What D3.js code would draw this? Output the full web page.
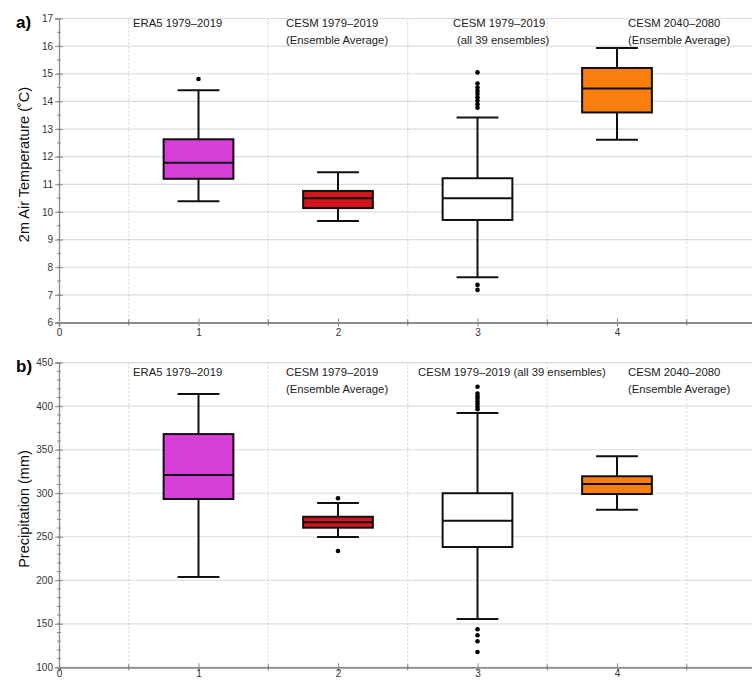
<!DOCTYPE html>
<html><head><meta charset="utf-8">
<script src="https://cdn.jsdelivr.net/npm/d3@7"></script>
<style>body{margin:0;background:#fff}svg{display:block;font-family:"Liberation Sans",Arial,sans-serif}</style>
</head><body><svg id="c" width="752" height="680"></svg>
<script>
const positions = [1, 2, 3, 4];
const colors = ["#d63fd8", "#d4141c", "#ffffff", "#f97e0d"];
const labelsA = [["ERA5 1979–2019"], ["CESM 1979–2019", "(Ensemble Average)"], ["CESM 1979–2019", "(all 39 ensembles)"], ["CESM 2040–2080", "(Ensemble Average)"]];
const labelsB = [["ERA5 1979–2019"], ["CESM 1979–2019", "(Ensemble Average)"], ["CESM 1979–2019 (all 39 ensembles)"], ["CESM 2040–2080", "(Ensemble Average)"]];
// [whiskerLow, q1, median, q3, whiskerHigh]
const tempStats = [[10.39, 11.2, 11.78, 12.63, 14.4], [9.67, 10.14, 10.5, 10.76, 11.44], [7.64, 9.71, 10.5, 11.22, 13.42], [12.61, 13.6, 14.47, 15.21, 15.93]];
const tempOutliers = [[14.81], [], [15.05, 14.65, 14.5, 14.38, 14.27, 14.15, 14.03, 13.9, 13.77, 7.36, 7.18], []];
const precStats = [[203.8, 293.4, 321, 368, 414], [249.7, 260.4, 266.6, 273, 288.8], [155.5, 238.2, 268.4, 300, 392.2], [281, 299.1, 310.6, 319.5, 342.5]];
const precOutliers = [[], [294.2, 233.6], [422.4, 414.5, 411.5, 408.5, 405.5, 402.5, 399.5, 396.5, 143.7, 136.8, 129.9, 117.6], []];
const tempTicks = d3.range(6, 18, 1);
const tempMinor = d3.range(6, 17.01, 0.5);
const precTicks = d3.range(100, 451, 50);
const precMinor = d3.range(100, 451, 10);
const xTicks = [0, 1, 2, 3, 4];
const xHalf = [0.5, 1.5, 2.5, 3.5, 4.5];

const svg = d3.select("#c");
const x = d3.scaleLinear().domain([0, 5]).range([59, 756.5]);

function panel(cfg) {
  const y = d3.scaleLinear().domain(cfg.domain).range([cfg.bottom, cfg.top]);
  const g = svg.append("g");
  g.selectAll(".hg").data(cfg.ticks).join("line")
    .attr("x1", x(0)).attr("x2", 752).attr("y1", d => y(d)).attr("y2", d => y(d))
    .attr("stroke", "#dcdcdc").attr("stroke-width", 1.2);
  g.selectAll(".vg").data(xHalf).join("line")
    .attr("x1", d => x(d)).attr("x2", d => x(d)).attr("y1", cfg.top).attr("y2", cfg.bottom)
    .attr("stroke", "#c8c8c8").attr("stroke-width", 0.8).attr("stroke-dasharray", "2,2");
  const ya = d3.axisLeft(y).tickValues(cfg.ticks).tickSize(4).tickPadding(2).tickFormat(d3.format("d"));
  const yg = g.append("g").attr("transform", `translate(${x(0)},0)`).call(ya);
  yg.select(".domain").attr("stroke", "#8c8c8c").attr("stroke-width", 1.3);
  yg.selectAll(".tick line").attr("stroke", "#8c8c8c").attr("x2", 4).attr("x1", -4);
  yg.selectAll(".tick text").attr("font-size", 10).attr("fill", "#333").attr("font-family", "Liberation Sans, Arial, sans-serif");
  g.selectAll(".ym").data(cfg.minor).join("line")
    .attr("x1", x(0) - 2).attr("x2", x(0) + 2).attr("y1", d => y(d)).attr("y2", d => y(d))
    .attr("stroke", "#8c8c8c").attr("stroke-width", 1);
  const xa = d3.axisBottom(x).tickValues(xTicks).tickSize(4).tickPadding(cfg.xPad).tickFormat(d3.format("d"));
  const xg = g.append("g").attr("transform", `translate(0,${cfg.bottom})`).call(xa);
  xg.select(".domain").attr("stroke", "#8c8c8c").attr("stroke-width", 1.8);
  xg.selectAll(".tick line").attr("stroke", "#8c8c8c").attr("y1", -4).attr("y2", 4);
  xg.selectAll(".tick text").attr("font-size", 10).attr("fill", "#333").attr("font-family", "Liberation Sans, Arial, sans-serif");
  g.selectAll(".xm").data(xHalf).join("line")
    .attr("x1", d => x(d)).attr("x2", d => x(d)).attr("y1", cfg.bottom - 3).attr("y2", cfg.bottom + 3)
    .attr("stroke", "#777").attr("stroke-width", 1);
  const bw = x(0.25) - x(0), cw = x(0.15) - x(0);
  cfg.stats.forEach((s, i) => {
    const cx = x(positions[i]);
    const bg = g.append("g").attr("stroke", "#111").attr("stroke-width", 2);
    bg.append("line").attr("x1", cx).attr("x2", cx).attr("y1", y(s[0])).attr("y2", y(s[4]));
    bg.append("line").attr("x1", cx - cw).attr("x2", cx + cw).attr("y1", y(s[0])).attr("y2", y(s[0]));
    bg.append("line").attr("x1", cx - cw).attr("x2", cx + cw).attr("y1", y(s[4])).attr("y2", y(s[4]));
    bg.append("rect").attr("x", cx - bw).attr("width", 2 * bw).attr("y", y(s[3])).attr("height", y(s[1]) - y(s[3]))
      .attr("fill", colors[i]);
    bg.append("line").attr("x1", cx - bw).attr("x2", cx + bw).attr("y1", y(s[2])).attr("y2", y(s[2]));
    g.selectAll(null).data(cfg.outliers[i]).join("circle")
      .attr("cx", cx).attr("cy", d => y(d)).attr("r", 2.3).attr("fill", "#000");
  });
  cfg.labels.forEach((lines, i) => {
    const t = g.append("text").attr("font-size", 11.3).attr("fill", "#222");
    lines.forEach((ln, j) => {
      t.append("tspan").attr("x", cfg.labelX[i] + (j > 0 ? cfg.indent[i] : 0)).attr("y", cfg.labelY + j * 17).text(ln);
    });
  });
  g.append("text").attr("x", 16).attr("y", cfg.top + 9).attr("font-size", 17).attr("font-weight", "bold").text(cfg.letter);
  g.append("text").attr("transform", `translate(29,${(cfg.top + cfg.bottom) / 2 + cfg.titleShift}) rotate(-90)`)
    .attr("text-anchor", "middle").attr("font-size", 14.5).attr("fill", "#111").text(cfg.title);
}

panel({ domain: [6, 17], top: 18.5, bottom: 322.5, ticks: tempTicks, minor: tempMinor, stats: tempStats, outliers: tempOutliers,
  labels: labelsA, labelX: [133, 286, 453, 628], indent: [0, 0, 4, 0], labelY: 27, letter: "a)", title: "2m Air Temperature (˚C)", titleShift: -6, xPad: 2 });
panel({ domain: [100, 450], top: 362.7, bottom: 667.3, ticks: precTicks, minor: precMinor, stats: precStats, outliers: precOutliers,
  labels: labelsB, labelX: [133, 286, 418, 628], indent: [0, 0, 0, 0], labelY: 376, letter: "b)", title: "Precipitation (mm)", titleShift: -6, xPad: -1.5 });
</script></body></html>
